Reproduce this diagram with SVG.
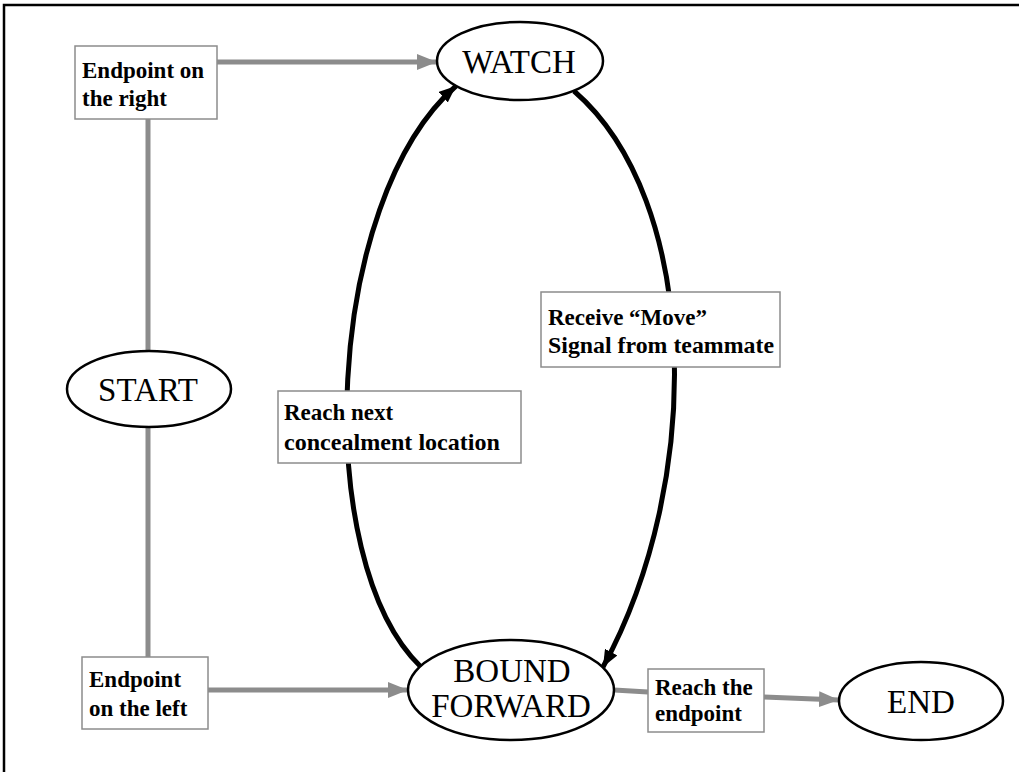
<svg xmlns="http://www.w3.org/2000/svg" width="1019" height="772" viewBox="0 0 1019 772">
<defs>
<style>
.frame{stroke:#000;stroke-width:2.5;fill:none}
.state{fill:#fff;stroke:#000;stroke-width:2.5}
.stxt{font-family:"Liberation Serif","Times New Roman",serif;font-size:33px;fill:#000;text-anchor:middle}
.box{fill:#fff;stroke:#8c8c8c;stroke-width:1.5}
.btxt{font-family:"Liberation Serif","Times New Roman",serif;font-size:23px;font-weight:bold;fill:#000}
.gray{stroke:#8c8c8c;stroke-width:5;fill:none}
.black{stroke:#000;stroke-width:5;fill:none}
</style>
<marker id="ga" markerUnits="userSpaceOnUse" markerWidth="20" markerHeight="16" refX="20" refY="8" orient="auto">
<path d="M0,0 L20,8 L0,16 z" fill="#8c8c8c"/>
</marker>
<marker id="ba" markerUnits="userSpaceOnUse" markerWidth="17" markerHeight="14" refX="17" refY="7" orient="auto">
<path d="M0,0 L17,7 L0,14 z" fill="#000"/>
</marker>
</defs>
<rect width="1019" height="772" fill="#fff"/>
<path class="frame" d="M4,772 L4,5 L1019,5"/>
<g id="connectors">
<path class="gray" d="M148,119 L148,352"/>
<path class="gray" d="M148,427 L148,657"/>
<path class="gray" d="M217,62 L437,62" marker-end="url(#ga)"/>
<path class="gray" d="M208,690 L408,690" marker-end="url(#ga)"/>
<path class="gray" d="M614,690 L648,692"/>
<path class="gray" d="M764,697 L839,700" marker-end="url(#ga)"/>
<path class="black" d="M421,667 C310,560 325,200 456,86" marker-end="url(#ba)"/>
<path class="black" d="M574,91 C700,200 705,480 603,667" marker-end="url(#ba)"/>
</g>
<g id="watch">
<ellipse class="state" cx="520" cy="61" rx="83" ry="39"/>
<text class="stxt" x="519" y="73">WATCH</text>
</g>
<g id="start">
<ellipse class="state" cx="149" cy="389" rx="82" ry="38"/>
<text class="stxt" x="148" y="401">START</text>
</g>
<g id="bound-forward">
<ellipse class="state" cx="511" cy="690" rx="103" ry="50"/>
<text class="stxt" x="512" y="682">BOUND</text>
<text class="stxt" x="511" y="717">FORWARD</text>
</g>
<g id="end">
<ellipse class="state" cx="921" cy="701" rx="82" ry="39"/>
<text class="stxt" x="921" y="713">END</text>
</g>
<g id="label-endpoint-right">
<rect class="box" x="75" y="46" width="142" height="73"/>
<text class="btxt" x="82" y="78">Endpoint on</text>
<text class="btxt" x="82" y="106">the right</text>
</g>
<g id="label-endpoint-left">
<rect class="box" x="82" y="657" width="126" height="72"/>
<text class="btxt" x="89" y="687">Endpoint</text>
<text class="btxt" x="89" y="716">on the left</text>
</g>
<g id="label-reach-endpoint">
<rect class="box" x="648" y="669" width="116" height="63"/>
<text class="btxt" x="655" y="695">Reach the</text>
<text class="btxt" x="655" y="721">endpoint</text>
</g>
<g id="label-reach-next">
<rect class="box" x="278" y="391" width="243" height="72"/>
<text class="btxt" x="284" y="420">Reach next</text>
<text class="btxt" x="284" y="450" textLength="216" lengthAdjust="spacingAndGlyphs">concealment location</text>
</g>
<g id="label-receive-move">
<rect class="box" x="541" y="292" width="239" height="75"/>
<text class="btxt" x="548" y="325">Receive “Move”</text>
<text class="btxt" x="548" y="353" textLength="226" lengthAdjust="spacingAndGlyphs">Signal from teammate</text>
</g>
</svg>
